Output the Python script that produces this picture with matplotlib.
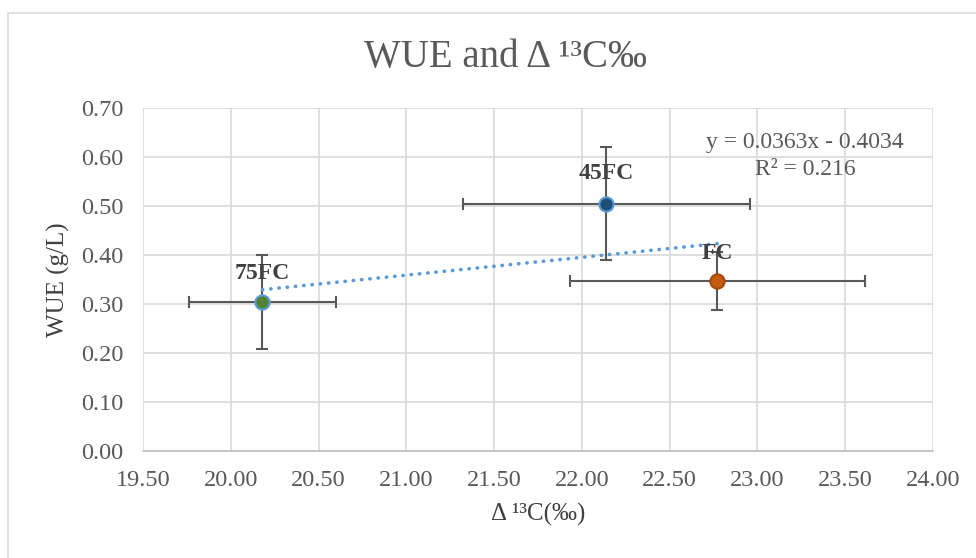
import matplotlib
matplotlib.use("Agg")
from matplotlib import pyplot as plt
from matplotlib.patches import Rectangle

# data
labels = ["75FC", "45FC", "FC"]
delta13c = [20.18, 22.14, 22.77]
delta13c_err = [0.42, 0.82, 0.84]
wue = [0.305, 0.505, 0.347]
wue_err = [0.096, 0.116, 0.059]
face_colors = ["#548235", "#1F4E79", "#C55A11"]
edge_colors = ["#5B9BD5", "#5B9BD5", "#A5480C"]

slope = 0.0363
intercept = -0.4034
r2 = 0.216

x_ticks = [19.5 + 0.5 * i for i in range(10)]
y_ticks = [0.1 * i for i in range(8)]

plt.rcParams['font.family'] = ['Liberation Serif', 'DejaVu Serif']
text_grey = "#595959"

fig = plt.figure(figsize=(9.76, 5.58), dpi=100)
ax = fig.add_axes([143 / 976, 1 - 451 / 558, 790 / 976, 343 / 558])

# outer chart border
fig.patches.append(Rectangle((8 / 976, -0.05), 1.0, 1 - 13 / 558 + 0.05,
                             transform=fig.transFigure, fill=False,
                             edgecolor="#D9D9D9", linewidth=1.2))

# gridlines
ax.set_axisbelow(True)
ax.grid(True, color="#D9D9D9", linewidth=1.2)

# error bars
for i in range(len(labels)):
    ax.errorbar(delta13c[i], wue[i], xerr=delta13c_err[i], yerr=wue_err[i],
                fmt='none', ecolor="#595959", elinewidth=1.5, capsize=4.5,
                capthick=1.5, zorder=3)

# linear trend line
x_fit = [min(delta13c), max(delta13c)]
y_fit = [slope * v + intercept for v in x_fit]
ax.plot(x_fit, y_fit, linestyle=(0, (0.1, 2.2)), color="#5B9BD5",
        linewidth=2.6, dash_capstyle='round', zorder=4)

# points
for i in range(len(labels)):
    ax.scatter(delta13c[i], wue[i], s=105, c=face_colors[i],
               edgecolors=edge_colors[i], linewidths=1.5, zorder=5)

# point labels
label_offsets = [0.058, 0.062, 0.057]
for i, txt in enumerate(labels):
    ax.text(delta13c[i], wue[i] + label_offsets[i], txt, ha='center', va='center',
            fontsize=17, fontweight='bold', color="#404040", zorder=6)

# trendline equation
ax.text(23.27, 0.629, f"y = {slope}x - {abs(intercept)}", ha='center', va='center',
        fontsize=17, color=text_grey)
ax.text(23.27, 0.574, f"R² = {r2}", ha='center', va='center',
        fontsize=17, color=text_grey)

ax.set_xlim(19.5, 24.0)
ax.set_ylim(0, 0.7)
ax.set_xticks(x_ticks)
ax.set_yticks(y_ticks)
ax.set_xticklabels([f"{v:.2f}" for v in x_ticks])
ax.set_yticklabels([f"{v:.2f}" for v in y_ticks])
ax.tick_params(length=0, labelsize=17.5, labelcolor=text_grey, pad=14)

for side in ["top", "right", "left"]:
    ax.spines[side].set_visible(False)
ax.spines["bottom"].set_color("#BFBFBF")
ax.spines["bottom"].set_linewidth(1.2)

ax.set_xlabel("Δ ¹³C(‰)", fontsize=18, color="#404040", labelpad=8)
ax.set_ylabel("WUE (g/L)", fontsize=18, color="#404040", labelpad=8)
fig.text(505 / 976, 1 - 57 / 558, "WUE and Δ ¹³C‰", ha='center', va='center',
         fontsize=28, color=text_grey)

fig.savefig("out.png", dpi=100)
